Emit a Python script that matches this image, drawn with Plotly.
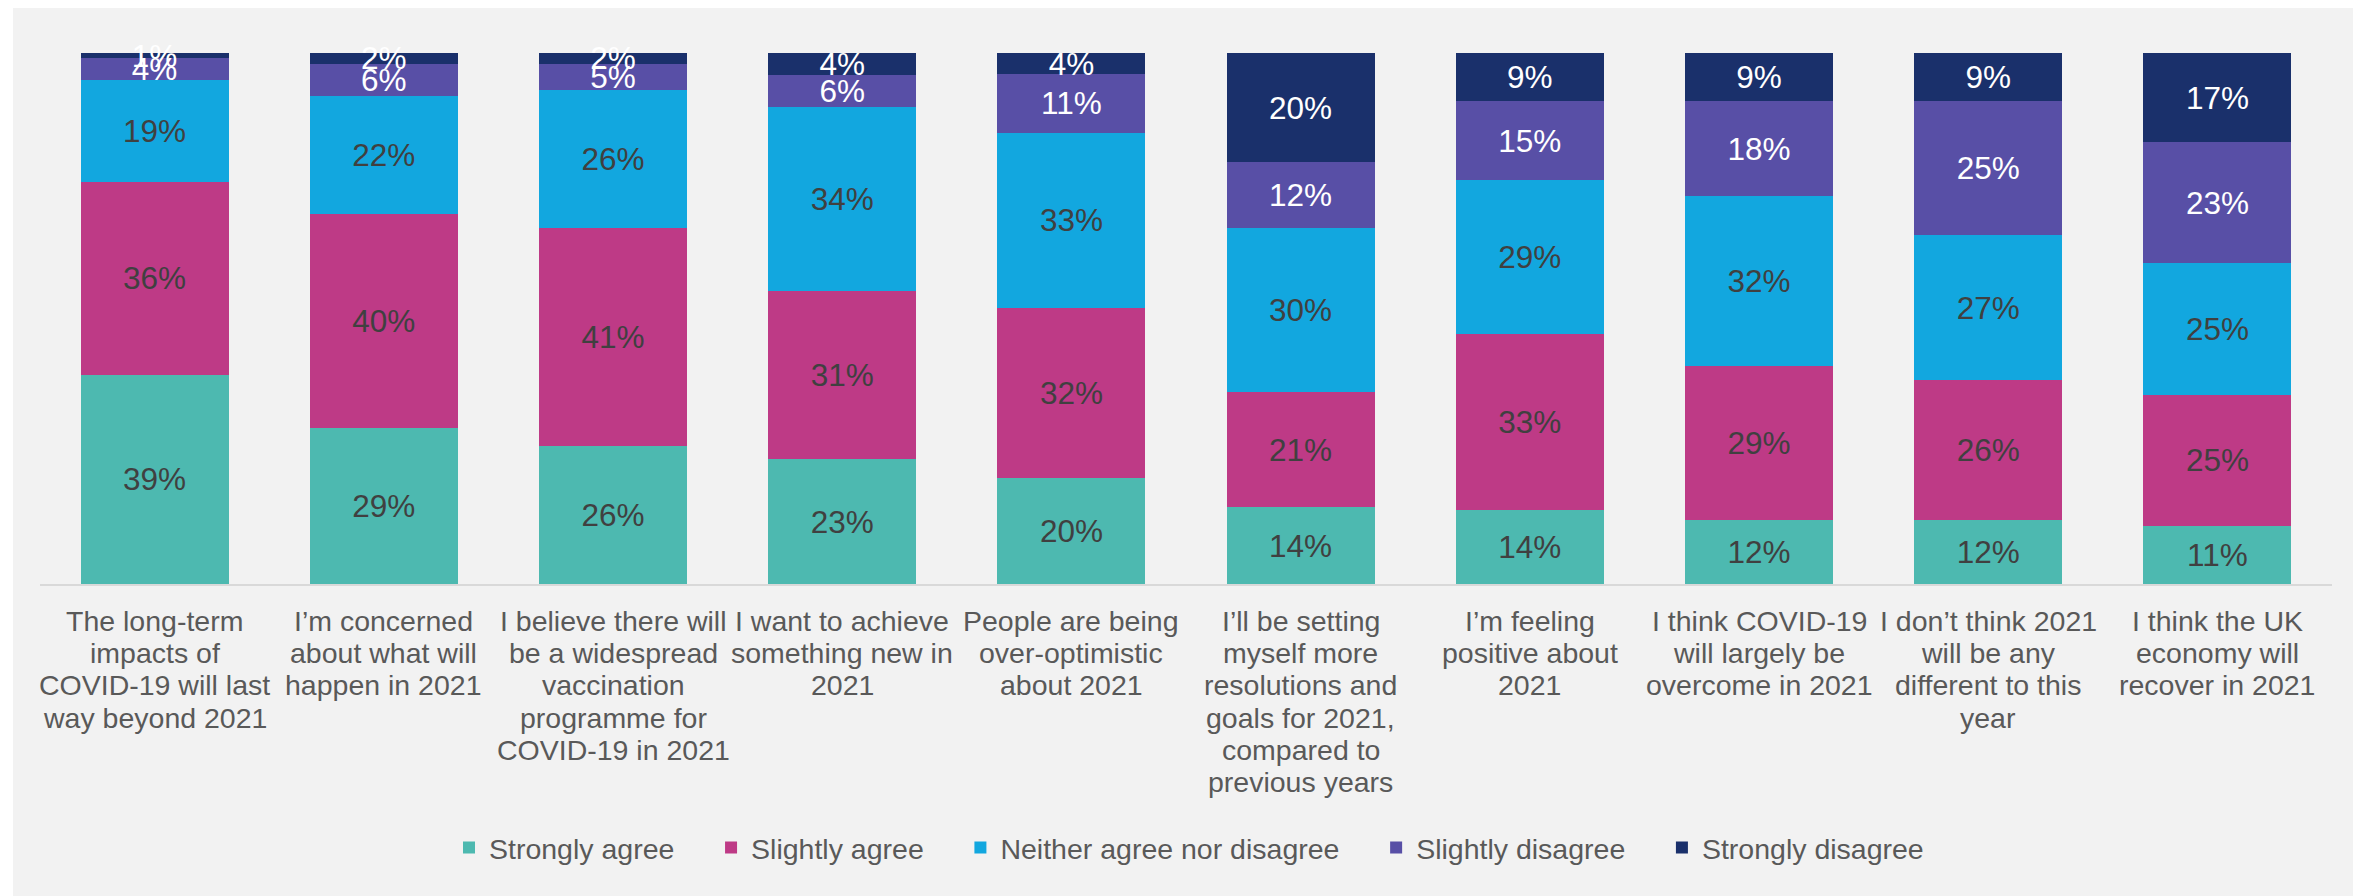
import plotly.graph_objects as go

statements = [
    "The long-term<br>impacts of<br>COVID-19 will last<br>way beyond 2021",
    "I’m concerned<br>about what will<br>happen in 2021",
    "I believe there will<br>be a widespread<br>vaccination<br>programme for<br>COVID-19 in 2021",
    "I want to achieve<br>something new in<br>2021",
    "People are being<br>over-optimistic<br>about 2021",
    "I’ll be setting<br>myself more<br>resolutions and<br>goals for 2021,<br>compared to<br>previous years",
    "I’m feeling<br>positive about<br>2021",
    "I think COVID-19<br>will largely be<br>overcome in 2021",
    "I don’t think 2021<br>will be any<br>different to this<br>year",
    "I think the UK<br>economy will<br>recover in 2021",
]
categories = list(range(len(statements)))

strongly_agree = [39, 29, 26, 23, 20, 14, 14, 12, 12, 11]
slightly_agree = [36, 40, 41, 31, 32, 21, 33, 29, 26, 25]
neither = [19, 22, 26, 34, 33, 30, 29, 32, 27, 25]
slightly_disagree = [4, 6, 5, 6, 11, 12, 15, 18, 25, 23]
strongly_disagree = [1, 2, 2, 4, 4, 20, 9, 9, 9, 17]

series_names = ["Strongly agree", "Slightly agree", "Neither agree nor disagree",
                "Slightly disagree", "Strongly disagree"]
series_values = [strongly_agree, slightly_agree, neither, slightly_disagree, strongly_disagree]
series_colors = ["#4DB9B0", "#BE3A86", "#12A7DF", "#584FA6", "#1A306B"]
label_colors = ["#404040", "#404040", "#404040", "#FFFFFF", "#FFFFFF"]

FONT = "Liberation Sans, Arial, sans-serif"
TXT = "#595959"

# figure is placed by the page at an 8px offset
W, H = 2353, 888
ml, mr, mt, mb = 32, 29, 45, 312
pw, ph = W - ml - mr, H - mt - mb

def px_x(p):
    return (p - ml) / pw

def px_y(p):
    return (H - mb - p) / ph

fig = go.Figure()
pad = "\u00a0" * 4
for k, (name, vals, color, tcolor) in enumerate(zip(series_names, series_values, series_colors, label_colors)):
    fig.add_trace(go.Bar(
        name=name + (pad if k < len(series_names) - 1 else ""),
        x=categories,
        y=vals,
        marker=dict(color=color, line=dict(width=0)),
        text=[f"{v}%" for v in vals],
        textposition="inside",
        insidetextanchor="middle",
        textangle=0,
        constraintext="none",
        cliponaxis=False,
        textfont=dict(family=FONT, size=31.5, color=tcolor),
        hoverinfo="skip",
    ))

# white strip at the left edge of the page
fig.add_shape(type="rect", xref="paper", yref="paper",
              x0=px_x(-20), x1=px_x(5), y0=px_y(H + 20), y1=px_y(-20),
              fillcolor="#FFFFFF", line=dict(width=0), layer="below")

# category labels, one line each, with the reference's tight line spacing
annotations = []
first_line_mid = 613
line_step = 32.2
for cat, label in zip(categories, statements):
    for j, line in enumerate(label.split("<br>")):
        annotations.append(dict(
            x=cat, xref="x", y=px_y(first_line_mid + j * line_step), yref="paper",
            text=line, showarrow=False, xanchor="center", yanchor="middle",
            font=dict(family=FONT, size=28.5, color=TXT),
        ))

fig.update_layout(
    width=W, height=H,
    margin=dict(l=ml, r=mr, t=mt, b=mb, pad=0),
    barmode="stack",
    barnorm="percent",
    bargap=0.354,
    paper_bgcolor="#F2F2F2",
    plot_bgcolor="rgba(0,0,0,0)",
    font=dict(family=FONT, color=TXT),
    showlegend=True,
    legend=dict(
        orientation="h",
        x=px_x(1189 - 8), xanchor="center",
        y=px_y(848 - 8), yanchor="middle",
        font=dict(family=FONT, size=28.5, color=TXT),
        bgcolor="rgba(0,0,0,0)",
        traceorder="normal",
        itemclick=False,
    ),
    annotations=annotations,
    xaxis=dict(
        tickmode="array",
        tickvals=categories,
        showticklabels=False,
        showline=True, linecolor="#D9D9D9", linewidth=2,
        ticks="", showgrid=False, zeroline=False,
        range=[-0.5, len(statements) - 0.5],
        fixedrange=True,
    ),
    yaxis=dict(
        range=[0, 100.0001], visible=False, showgrid=False, zeroline=False,
        fixedrange=True,
    ),
)

fig.write_html("out.html")
